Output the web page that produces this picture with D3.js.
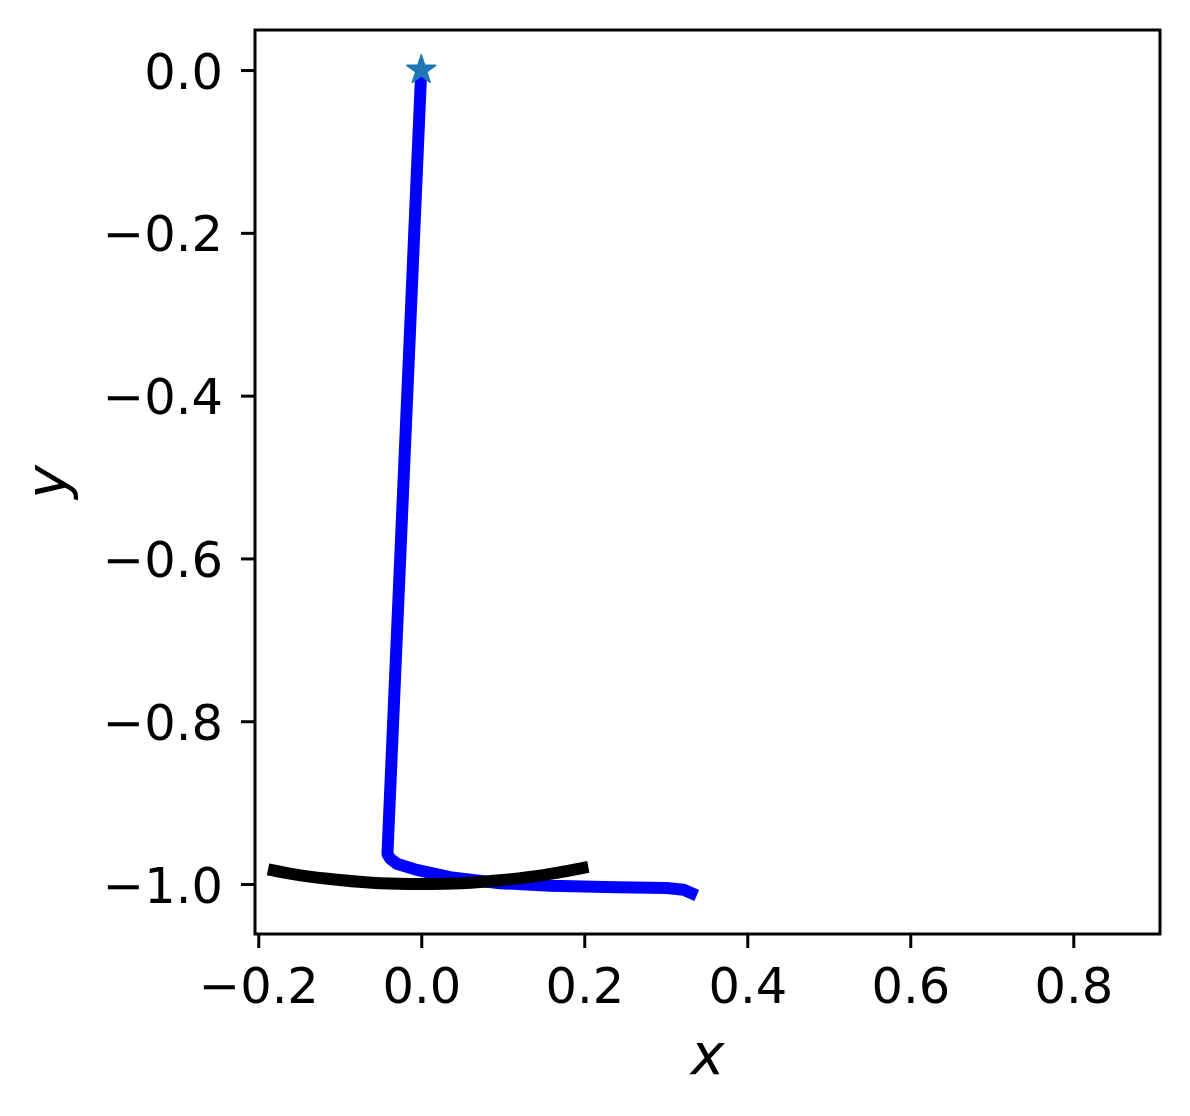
<!DOCTYPE html>
<html>
<head>
<meta charset="utf-8">
<script src="https://cdn.jsdelivr.net/npm/d3@7"></script>
<style>
  html, body { margin: 0; padding: 0; background: #fff; }
  svg { display: block; }
</style>
</head>
<body>
<script>
// ---- data ----
const blueX = [0.0, -0.0415, -0.038, -0.030, -0.0056, 0.0352, 0.0966, 0.158, 0.240, 0.301, 0.322, 0.338];
const blueY = [0.0, -0.963, -0.969, -0.975, -0.9826, -0.9916, -0.999, -1.002, -1.004, -1.005, -1.007, -1.014];
const blackX = [-0.188, -0.15, -0.10, -0.05, 0.0, 0.05, 0.10, 0.15, 0.205];
const blackY = [-0.982, -0.989, -0.995, -0.999, -1.0, -0.999, -0.995, -0.989, -0.979];
const startPoint = [0.0, 0.0];
const xTicks = [-0.2, 0.0, 0.2, 0.4, 0.6, 0.8];
const yTicks = [0.0, -0.2, -0.4, -0.6, -0.8, -1.0];
const xDomain = [-0.204, 0.9064];
const yDomain = [-1.0614, 0.0492];

// ---- layout ----
const W = 1190, H = 1116;
const L = 255, R = 1160, T = 30, B = 934;

const svg = d3.select("body").append("svg").attr("width", W).attr("height", H);
svg.append("rect").attr("width", W).attr("height", H).attr("fill", "#fff");

const x = d3.scaleLinear().domain(xDomain).range([L, R]);
const y = d3.scaleLinear().domain(yDomain).range([B, T]);

const font = "'DejaVu Sans', sans-serif";

// lines
const blueData = blueX.map((v, i) => [v, blueY[i]]);
const blackData = blackX.map((v, i) => [v, blackY[i]]);

svg.append("path")
  .attr("d", d3.line().x(d => x(d[0])).y(d => y(d[1]))(blueData))
  .attr("fill", "none").attr("stroke", "#0000ff").attr("stroke-width", 12)
  .attr("stroke-linejoin", "round").attr("stroke-linecap", "butt");

svg.append("path")
  .attr("d", d3.line().x(d => x(d[0])).y(d => y(d[1])).curve(d3.curveCatmullRom)(blackData))
  .attr("fill", "none").attr("stroke", "#000").attr("stroke-width", 12)
  .attr("stroke-linejoin", "round").attr("stroke-linecap", "butt");

// star marker
svg.append("path")
  .attr("d", d3.symbol().type(d3.symbolStar).size(260)())
  .attr("transform", `translate(${x(startPoint[0])},${y(startPoint[1])})`)
  .attr("fill", "#1f77b4").attr("stroke", "#1f77b4").attr("stroke-width", 1.5)
  .attr("stroke-linejoin", "round");

// axes
const fmt = d3.format(".1f");
const xAxis = d3.axisBottom(x).tickValues(xTicks).tickFormat(fmt).tickSize(14).tickPadding(18);
const yAxis = d3.axisLeft(y).tickValues(yTicks).tickFormat(fmt).tickSize(14).tickPadding(18);

const gx = svg.append("g").attr("transform", `translate(0,${B})`).call(xAxis);
const gy = svg.append("g").attr("transform", `translate(${L},0)`).call(yAxis);

[gx, gy].forEach(g => {
  g.select(".domain").remove();
  g.selectAll(".tick line").attr("stroke", "#000").attr("stroke-width", 3);
  g.selectAll(".tick text").attr("fill", "#000").attr("font-family", font).attr("font-size", 49.5);
});
gx.selectAll(".tick text").attr("dy", null).attr("y", 69).attr("dominant-baseline", "alphabetic");
gy.selectAll(".tick text").attr("dy", null).attr("y", 18).attr("dominant-baseline", "alphabetic");

// frame
svg.append("rect").attr("x", L).attr("y", T).attr("width", R - L).attr("height", B - T)
  .attr("fill", "none").attr("stroke", "#000").attr("stroke-width", 3);

// axis labels
svg.append("text").attr("x", (L + R) / 2).attr("y", 1074)
  .attr("text-anchor", "middle").attr("font-family", font).attr("font-style", "italic")
  .attr("font-size", 57).attr("fill", "#000").text("x");

svg.append("text").attr("transform", `translate(66,${(T + B) / 2}) rotate(-90)`)
  .attr("text-anchor", "middle").attr("font-family", font).attr("font-style", "italic")
  .attr("font-size", 57).attr("fill", "#000").text("y");
</script>
</body>
</html>
